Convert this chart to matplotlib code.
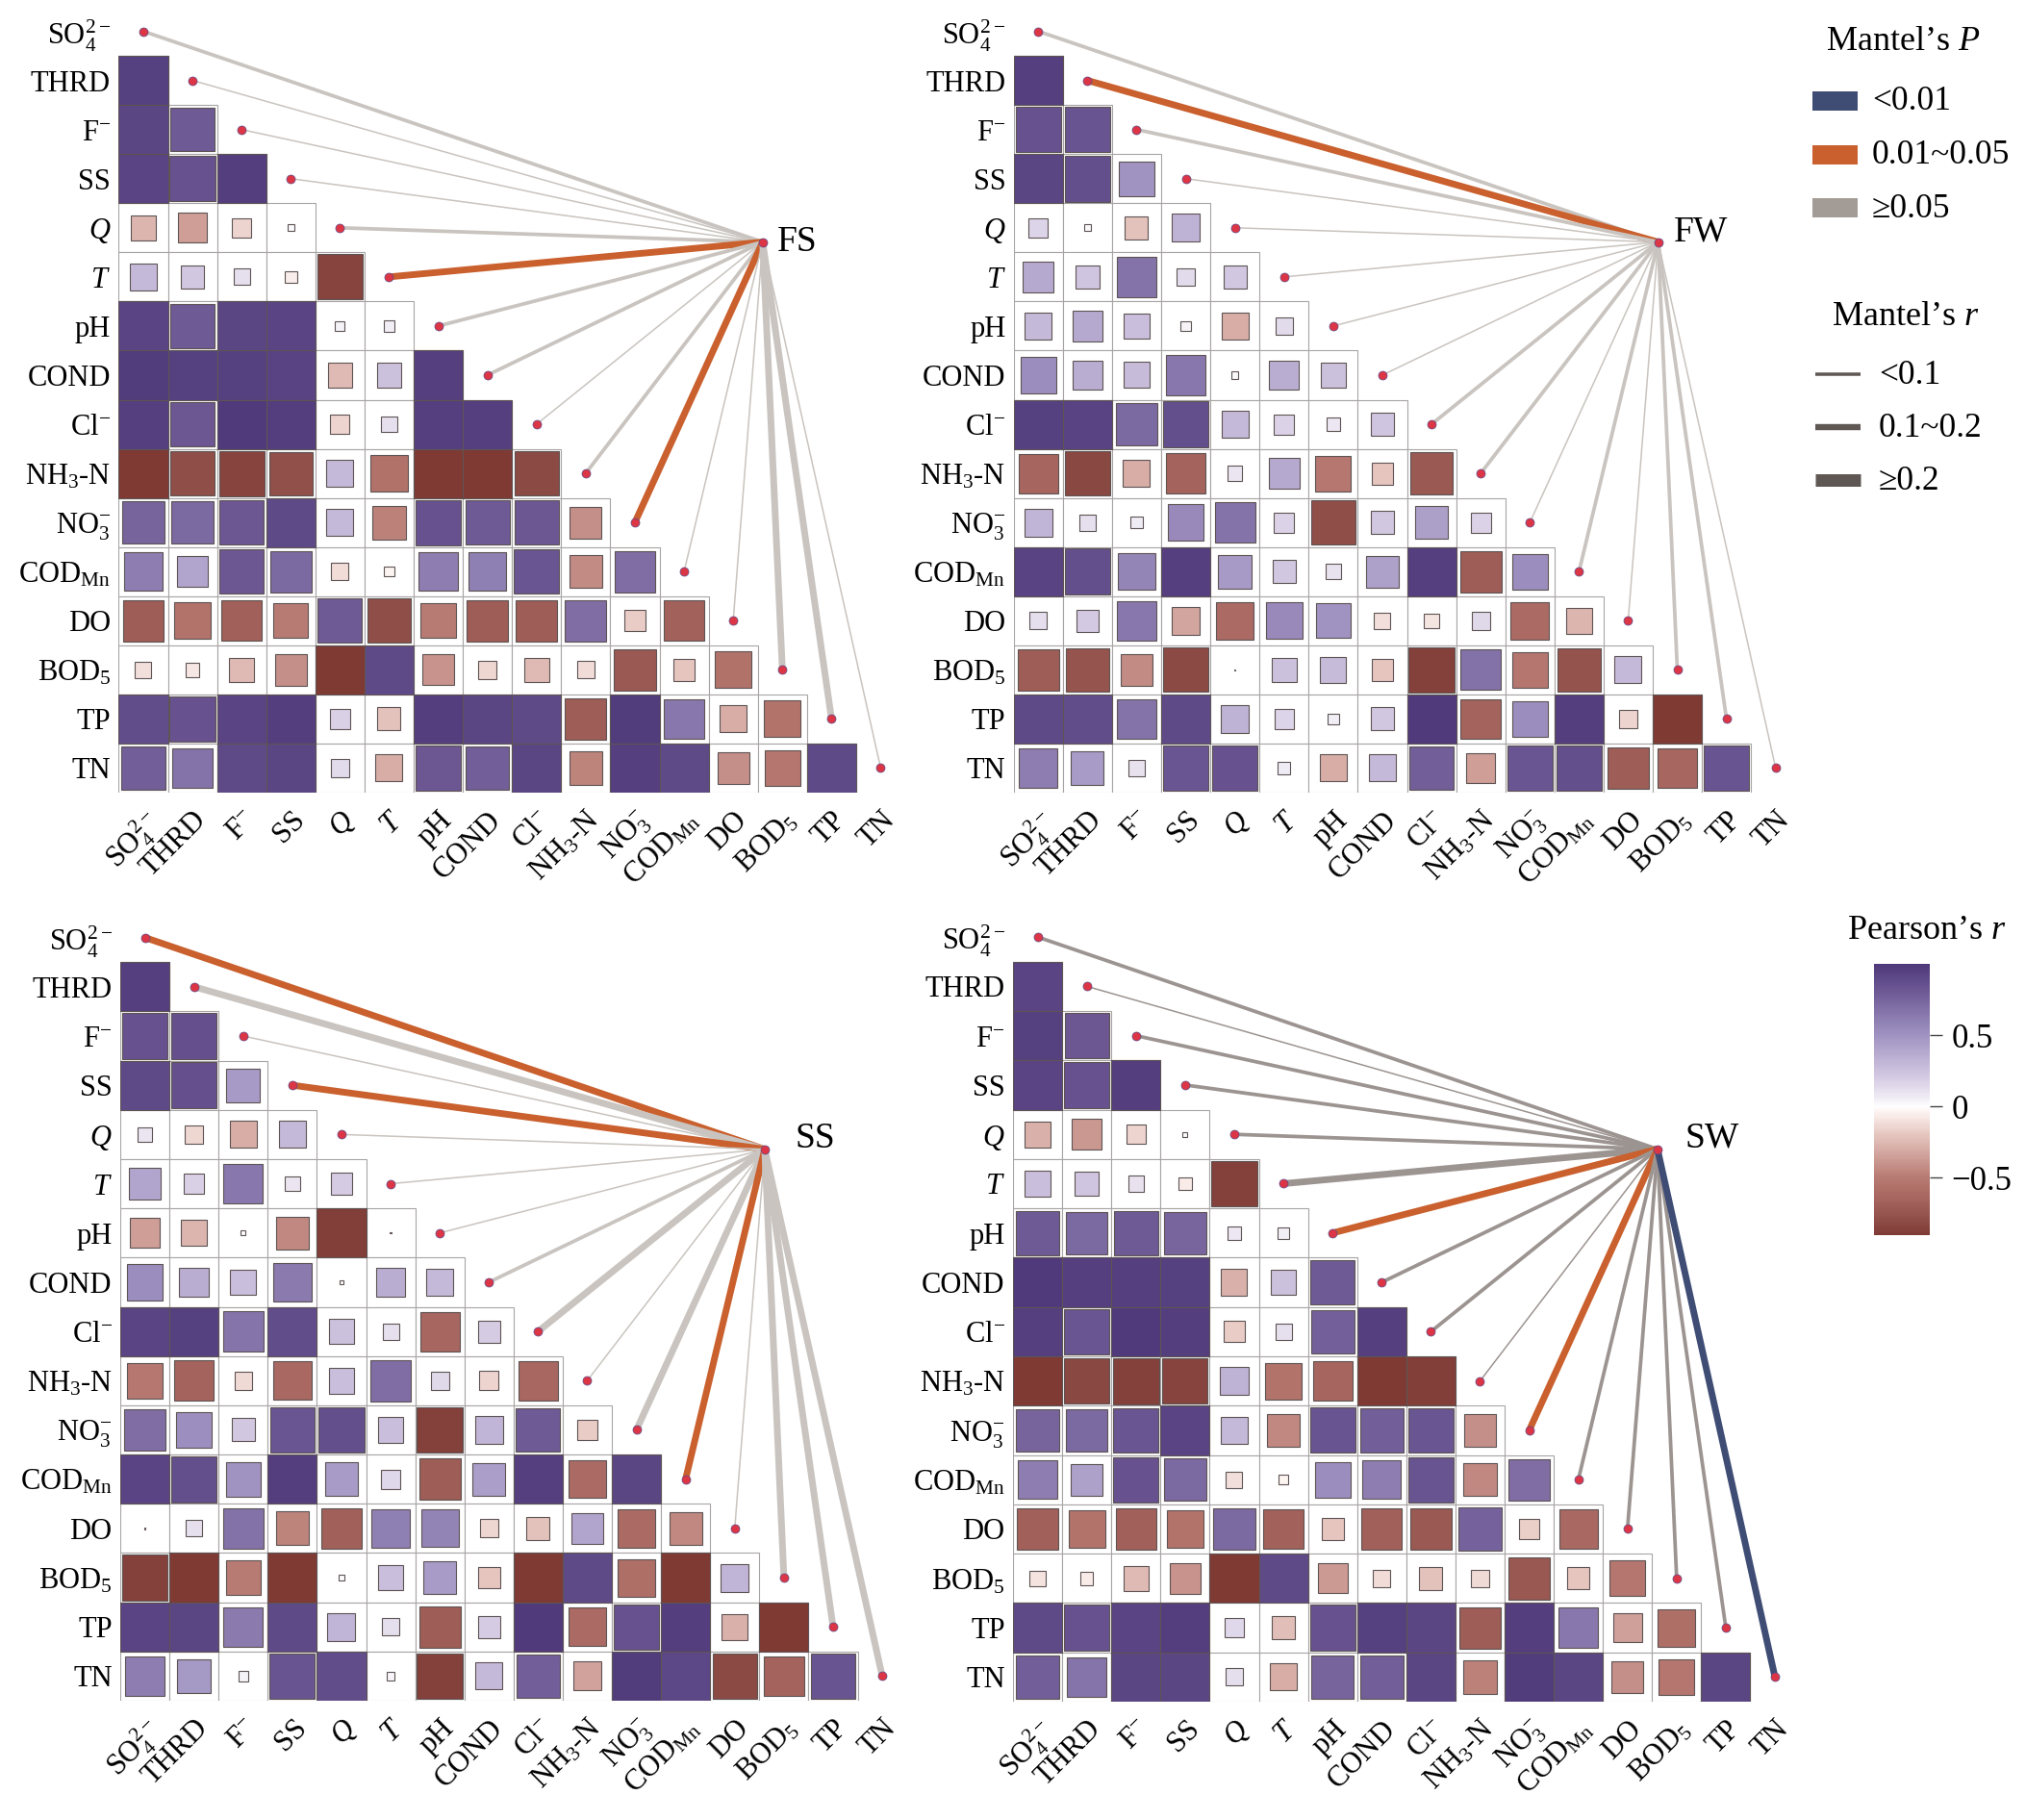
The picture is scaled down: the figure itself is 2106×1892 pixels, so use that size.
import numpy as np
import matplotlib
matplotlib.use("Agg")
import matplotlib.pyplot as plt
from matplotlib.patches import Rectangle
from matplotlib.colors import LinearSegmentedColormap, Normalize
from matplotlib.cm import ScalarMappable

plt.rcParams['font.family'] = ['Liberation Serif', 'DejaVu Serif']
plt.rcParams['mathtext.fontset'] = 'custom'
plt.rcParams['mathtext.rm'] = 'Liberation Serif'
plt.rcParams['mathtext.it'] = 'Liberation Serif:italic'
plt.rcParams['mathtext.bf'] = 'Liberation Serif:bold'

labels = ['SO$_4^{2-}$', 'THRD', 'F$^{-}$', 'SS', '$Q$', '$T$', 'pH', 'COND', 'Cl$^{-}$',
          'NH$_3$-N', 'NO$_3^{-}$', 'COD$_{\\mathrm{Mn}}$', 'DO', 'BOD$_5$', 'TP', 'TN']

# Pearson's r, lower triangle, rows THRD..TN
fs_r = [
    [.95],
    [.92, .80],
    [.93, .85, .97],
    [-.27, -.36, -.15, .02],
    [.30, .22, .11, -.06, -.85],
    [.93, .80, .92, .93, .04, .05],
    [.98, .95, .95, .94, -.25, .25, .96],
    [.96, .82, .99, .97, -.15, .11, .96, .96],
    [-.97, -.80, -.85, -.78, .30, -.56, -.90, -.95, -.82],
    [.75, .72, .82, .90, .30, -.47, .85, .80, .82, -.42],
    [.62, .40, .82, .72, -.12, -.04, .62, .60, .83, -.43, .70],
    [-.70, -.55, -.68, -.50, .80, -.80, -.50, -.70, -.70, .70, -.18, -.67],
    [-.11, -.08, -.25, -.42, -.95, .90, -.40, -.14, -.25, -.12, -.72, -.20, -.56],
    [.88, .85, .93, .97, .18, -.22, .97, .92, .90, -.70, .98, .65, -.30, -.55],
    [.78, .67, .90, .92, .13, -.30, .82, .78, .92, -.46, .96, .90, -.42, -.53, .90],
]
fw_r = [
    [.96],
    [.85, .84],
    [.92, .87, .50],
    [.16, .02, -.22, .33],
    [.38, .23, .67, .13, .22],
    [.30, .38, .27, .04, -.30, .13],
    [.53, .36, .28, .65, .02, .36, .25],
    [.95, .94, .72, .87, .30, .17, .08, .23],
    [-.65, -.83, -.30, -.66, .09, .38, -.52, -.20, -.72],
    [.32, .11, .06, .55, .67, .17, -.80, .22, .43, .17],
    [.94, .87, .57, .96, .46, .22, .10, .42, .96, -.70, .53],
    [.12, .21, .65, -.33, -.60, .55, .50, -.11, -.09, .14, -.60, -.27],
    [-.70, -.76, -.43, -.82, .00, .25, .28, -.20, -.87, .68, -.53, -.77, .30],
    [.90, .88, .67, .90, .33, .16, .05, .22, .99, -.66, .53, .97, -.15, -.90],
    [.62, .45, .10, .83, .85, .06, -.30, .30, .78, -.36, .83, .87, -.70, -.64, .84],
]
ss_r = [
    [.96],
    [.85, .86],
    [.90, .86, .46],
    [.09, -.14, -.30, .30],
    [.40, .18, .65, .09, .20],
    [-.36, -.27, .01, -.45, -.88, .00],
    [.53, .36, .27, .63, .005, .36, .30],
    [.93, .95, .66, .88, .25, .11, -.64, .20],
    [-.52, -.66, -.13, -.62, .27, .70, .14, -.15, -.63],
    [.70, .52, .22, .83, .87, .27, -.87, .32, .80, -.18],
    [.93, .87, .50, .97, .45, .15, -.70, .44, .96, -.60, .92],
    [.00, .11, .68, -.46, -.68, .60, .58, -.14, -.22, .40, -.60, -.45],
    [-.87, -.97, -.50, -.90, .01, .27, .45, -.20, -.97, .90, -.58, -.92, .32],
    [.93, .92, .63, .90, .32, .12, -.70, .20, .99, -.60, .85, .97, -.28, -.98],
    [.62, .47, .04, .84, .88, .03, -.87, .30, .78, -.34, .98, .91, -.82, -.66, .84],
]
sw_r = [
    [.93],
    [.95, .82],
    [.93, .85, .97],
    [-.28, -.38, -.15, .01],
    [.27, .23, .10, -.07, -.87],
    [.80, .72, .80, .74, .08, .05],
    [.99, .96, .96, .95, -.28, .25, .80],
    [.96, .83, .99, .97, -.18, .11, .77, .96],
    [-.97, -.83, -.87, -.85, .33, -.55, -.65, -.97, -.88],
    [.75, .72, .83, .93, .30, -.45, .84, .78, .83, -.42],
    [.62, .42, .85, .72, -.11, -.04, .53, .62, .84, -.45, .70],
    [-.68, -.55, -.68, -.55, .72, -.67, -.20, -.68, -.72, .76, -.17, -.62],
    [-.10, -.07, -.25, -.40, -.95, .90, -.37, -.12, -.22, -.13, -.73, -.20, -.53],
    [.90, .85, .93, .97, .15, -.23, .85, .95, .92, -.70, .97, .65, -.35, -.58],
    [.78, .66, .92, .92, .12, -.30, .75, .78, .92, -.47, .98, .92, -.42, -.53, .92],
]

# Mantel links, one per variable: P class (0 <0.01, 1 0.01~0.05, 2 >=0.05), r class (0, 1, 2)
fs_p = [2, 2, 2, 2, 2, 1, 2, 2, 2, 2, 1, 2, 2, 2, 2, 2]
fs_w = [1, 0, 0, 0, 1, 2, 1, 1, 0, 1, 2, 0, 0, 2, 2, 0]
fw_p = [2, 1, 2, 2, 2, 2, 2, 2, 2, 2, 2, 2, 2, 2, 2, 2]
fw_w = [1, 2, 1, 0, 0, 0, 0, 0, 1, 1, 0, 1, 0, 1, 1, 0]
ss_p = [1, 2, 2, 1, 2, 2, 2, 2, 2, 2, 2, 1, 2, 2, 2, 2]
ss_w = [2, 2, 0, 2, 0, 0, 0, 1, 2, 0, 2, 2, 0, 2, 2, 2]
sw_p = [2, 2, 2, 2, 2, 2, 1, 2, 2, 2, 1, 2, 2, 2, 2, 0]
sw_w = [1, 0, 1, 1, 1, 2, 2, 1, 1, 0, 2, 1, 1, 1, 1, 2]

blue = '#3f4d75'
orange = '#c9602e'
grey_light = '#c9c4bf'
grey_dark = '#9c9491'
widths = [1.1, 2.7, 5.0]

cb_min, cb_max = -0.905, 1.0
anchors = [(-0.905, '#7f3a34'), (-0.8, '#8f4e48'), (-0.65, '#a6655e'), (-0.5, '#b87b73'),
           (-0.2, '#e6c6c0'), (-0.03, '#fdf6f4'),
           (0, '#ffffff'), (0.05, '#f2eef6'), (0.2, '#d5cbe3'), (0.5, '#a093c2'),
           (0.8, '#6f5b96'), (1.0, '#4f397a')]
cmap = LinearSegmentedColormap.from_list(
    'pr', [((v - cb_min) / (cb_max - cb_min), c) for v, c in anchors])
norm = Normalize(cb_min, cb_max)

W, H = 2106, 1892
fig = plt.figure(figsize=(W / 100, H / 100), dpi=100)


def px_axes(left, top, right, bottom):
    return fig.add_axes([left / W, 1 - bottom / H, (right - left) / W, (bottom - top) / H])


def panel(box, mat, p_cls, w_cls, hub, name, name_pos, grey):
    ax = px_axes(*box)
    ax.set_xlim(0, 16)
    ax.set_ylim(16, 0)
    ax.patch.set_alpha(0)
    for s in ax.spines.values():
        s.set_visible(False)
    ax.set_xticks(np.arange(16) + .5)
    ax.set_yticks(np.arange(16) + .5)
    ax.set_xticklabels(labels, rotation=45, ha='right', va='top', rotation_mode='anchor', fontsize=22)
    ax.set_yticklabels(labels, fontsize=22)
    ax.tick_params(length=0, pad=6)
    ax.tick_params(axis='x', pad=10)
    for i, row in enumerate(mat):
        y = i + 1
        for x, r in enumerate(row):
            ax.add_patch(Rectangle((x, y), 1, 1, fc='white', ec='#a8a4a4', lw=0.8, zorder=1))
            side = 1.0 if abs(r) >= .88 else abs(r) ** .5
            if side < .03:
                side = .03
            ax.add_patch(Rectangle((x + .5 - side / 2, y + .5 - side / 2), side, side,
                                   fc=cmap(norm(r)), ec='#5e5454', lw=0.8, zorder=2))
    cols = [blue, orange, grey]
    for i in range(16):
        ax.plot([hub[0], i + .5], [hub[1], i + .5], color=cols[p_cls[i]], lw=widths[w_cls[i]],
                solid_capstyle='butt', zorder=3)
    ax.plot(np.arange(16) + .5, np.arange(16) + .5, 'o', ms=6.5, mfc='#dc3545', mec='#5b4a8a',
            mew=0.5, ls='none', zorder=4, clip_on=False)
    ax.plot([hub[0]], [hub[1]], 'o', ms=6.5, mfc='#dc3545', mec='#5b4a8a', mew=0.5, zorder=5)
    ax.text(name_pos[0], name_pos[1], name, fontsize=27, ha='center', va='center', zorder=5)


panel((123.4, 7, 941, 824), fs_r, fs_p, fs_w, (13.10, 4.79), 'FS', (13.80, 4.80), grey_light)
panel((1053.7, 7, 1871.3, 824), fw_r, fw_p, fw_w, (13.11, 4.79), 'FW', (13.98, 4.58), grey_light)
panel((125, 949, 942.6, 1768), ss_r, ss_p, ss_w, (13.11, 4.80), 'SS', (14.13, 4.58), grey_light)
panel((1053, 948.4, 1870.6, 1769), sw_r, sw_p, sw_w, (13.11, 4.80), 'SW', (14.23, 4.58), grey_dark)

# legends
lg = fig.add_axes([0, 0, 1, 1])
lg.set_xlim(0, W)
lg.set_ylim(H, 0)
lg.axis('off')
lg.patch.set_alpha(0)

lg.text(1978, 44, 'Mantel’s $P$', fontsize=26, ha='center', va='center')
for yc, c, t in zip([105, 161, 216], [blue, orange, '#a39c96'], ['<0.01', '0.01~0.05', '≥0.05']):
    lg.add_patch(Rectangle((1884, yc - 10), 47, 20, fc=c, ec='none'))
    lg.text(1946, yc + 1, t, fontsize=25.5, ha='left', va='center')

lg.text(1981, 329, 'Mantel’s $r$', fontsize=26, ha='center', va='center')
for yc, w, t in zip([389.5, 444.5, 499.5], [3.5, 6.4, 13], ['<0.1', '0.1~0.2', '≥0.2']):
    lg.plot([1887, 1934], [yc, yc], color='#5f5753', lw=w * .72, solid_capstyle='butt')
    lg.text(1953, yc + 1, t, fontsize=25.5, ha='left', va='center')

lg.text(2003, 967, 'Pearson’s $r$', fontsize=26, ha='center', va='center')

cax = px_axes(1948, 1002, 2006, 1284)
cb = fig.colorbar(ScalarMappable(norm=norm, cmap=cmap), cax=cax, ticks=[-.5, 0, .5])
cb.outline.set_visible(False)
cb.ax.set_yticklabels(['−0.5', '0', '0.5'], fontsize=25)
cb.ax.tick_params(length=9, width=1, color='#444444', pad=7)

fig.savefig('out.png', dpi=100, facecolor='white')
